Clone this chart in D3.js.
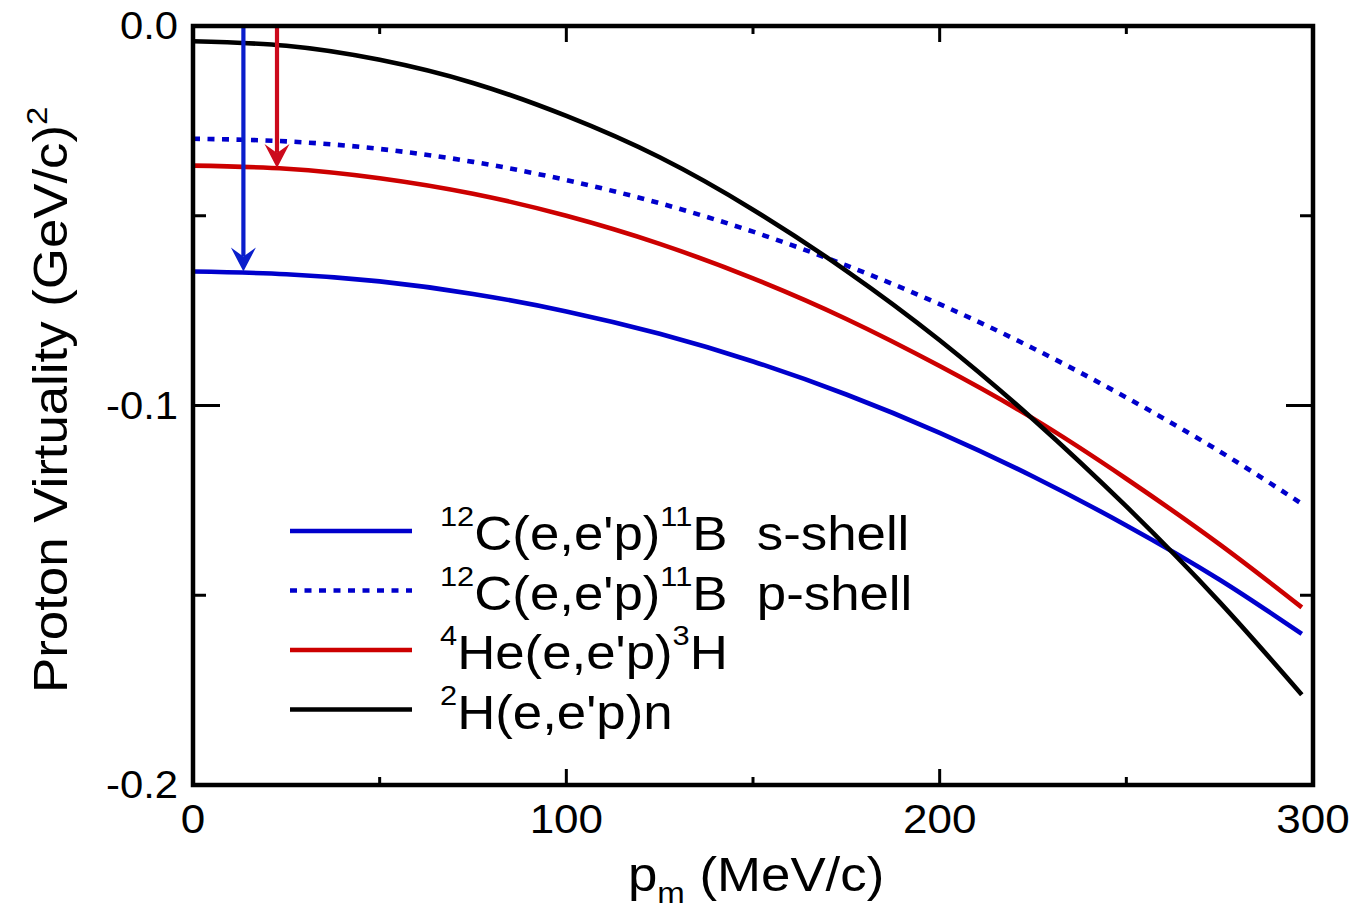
<!DOCTYPE html>
<html>
<head>
<meta charset="utf-8">
<script src="https://cdn.jsdelivr.net/npm/d3@7"></script>
<style>
  html, body { margin: 0; padding: 0; background: #fff; }
  svg { display: block; }
  text { font-family: "Liberation Sans", Arial, Helvetica, sans-serif; fill: #000; }
</style>
</head>
<body>
<svg id="chart" width="1354" height="916"></svg>
<script>
// Missing momentum grid (MeV/c)
const pm = [0, 25, 50, 75, 100, 125, 150, 175, 200, 225, 250, 275, 297];

// Proton virtuality (GeV/c)^2 for each reaction
const carbonS  = [-0.0647, -0.0654, -0.0673, -0.0706, -0.0752, -0.0811, -0.0884, -0.0971, -0.1072, -0.1187, -0.1316, -0.1459, -0.1602];
const carbonP  = [-0.0297, -0.0304, -0.0324, -0.0358, -0.0406, -0.0467, -0.0542, -0.0631, -0.0733, -0.0849, -0.0979, -0.1121, -0.1259];
const helium   = [-0.0368, -0.0376, -0.0401, -0.0442, -0.0500, -0.0574, -0.0665, -0.0772, -0.0896, -0.1034, -0.1193, -0.1366, -0.1532];
const deuteron = [-0.0040, -0.0052, -0.0089, -0.0150, -0.0237, -0.0346, -0.0484, -0.0645, -0.0828, -0.1036, -0.1266, -0.1518, -0.1762];

// Arrows marking the zero-momentum virtuality of the s-shell and 4He states
const arrowP    = [13.5, 22.5];
const arrowFrom = [0.0, 0.0];
const arrowTo   = [-0.0647, -0.0374];

// Axis ticks
const xMajor = [0, 100, 200, 300];
const xMinor = [50, 150, 250];
const yMajor = [0.0, -0.1, -0.2];
const yMinor = [-0.05, -0.15];
const xTickLabels = ["0", "100", "200", "300"];
const yTickLabels = ["0.0", "-0.1", "-0.2"];

const series = [
  { name: "s-shell", values: carbonS,  color: "#0000cc", dash: null },
  { name: "p-shell", values: carbonP,  color: "#0000cc", dash: "7,7.5" },
  { name: "He",      values: helium,   color: "#cc0000", dash: null },
  { name: "D",       values: deuteron, color: "#000000", dash: null }
];
const arrowColors = ["#0a1ecc", "#cc0a1c"];

const svg = d3.select("#chart");
const L = 193, R = 1313, T = 26, B = 785;
const x = d3.scaleLinear().domain([0, 300]).range([L, R]);
const y = d3.scaleLinear().domain([-0.2, 0]).range([B, T]);

const FONT_STRETCH = 1.1;

// text helper with a slight horizontal widening of the glyphs
function label(g, tx, ty, rot, size, anchor) {
  return g.append("text")
    .attr("transform", `translate(${tx},${ty}) rotate(${rot}) scale(${FONT_STRETCH},1)`)
    .attr("font-size", size)
    .attr("text-anchor", anchor);
}

// curves
const line = d3.line()
  .x((d, i) => x(pm[i]))
  .y(d => y(d))
  .curve(d3.curveNatural);

const curves = svg.append("g").attr("fill", "none").attr("stroke-width", 4.6);
series.forEach(s => {
  curves.append("path")
    .attr("d", line(s.values))
    .attr("stroke", s.color)
    .attr("stroke-dasharray", s.dash);
});

// arrows
const arrows = svg.append("g");
arrowP.forEach((p, i) => {
  const ax = x(p), y0 = y(arrowFrom[i]), y1 = y(arrowTo[i]);
  const headLen = 24, headHalf = 12.5, notch = 9;
  arrows.append("line")
    .attr("x1", ax).attr("x2", ax)
    .attr("y1", y0).attr("y2", y1 - headLen + notch)
    .attr("stroke", arrowColors[i]).attr("stroke-width", 4.2);
  arrows.append("path")
    .attr("d", `M${ax},${y1} L${ax - headHalf},${y1 - headLen} L${ax},${y1 - headLen + notch} L${ax + headHalf},${y1 - headLen} Z`)
    .attr("fill", arrowColors[i]);
});

// frame
svg.append("rect")
  .attr("x", L).attr("y", T)
  .attr("width", R - L).attr("height", B - T)
  .attr("fill", "none").attr("stroke", "#000").attr("stroke-width", 4.5);

// inward ticks on all four sides
const ticks = svg.append("g").attr("stroke", "#000").attr("stroke-width", 3);
const xMajLen = 16, xMinLen = 8, yMajLen = 27, yMinLen = 13;
xMajor.forEach(v => {
  ticks.append("line").attr("x1", x(v)).attr("x2", x(v)).attr("y1", B).attr("y2", B - xMajLen);
  ticks.append("line").attr("x1", x(v)).attr("x2", x(v)).attr("y1", T).attr("y2", T + xMajLen);
});
xMinor.forEach(v => {
  ticks.append("line").attr("x1", x(v)).attr("x2", x(v)).attr("y1", B).attr("y2", B - xMinLen);
  ticks.append("line").attr("x1", x(v)).attr("x2", x(v)).attr("y1", T).attr("y2", T + xMinLen);
});
yMajor.forEach(v => {
  ticks.append("line").attr("y1", y(v)).attr("y2", y(v)).attr("x1", L).attr("x2", L + yMajLen);
  ticks.append("line").attr("y1", y(v)).attr("y2", y(v)).attr("x1", R).attr("x2", R - yMajLen);
});
yMinor.forEach(v => {
  ticks.append("line").attr("y1", y(v)).attr("y2", y(v)).attr("x1", L).attr("x2", L + yMinLen);
  ticks.append("line").attr("y1", y(v)).attr("y2", y(v)).attr("x1", R).attr("x2", R - yMinLen);
});

// tick labels
const lbl = svg.append("g");
xMajor.forEach((v, i) => {
  label(lbl, x(v), 833, 0, 40, "middle").text(xTickLabels[i]);
});
yMajor.forEach((v, i) => {
  label(lbl, 178, y(v) + 13, 0, 38, "end").text(yTickLabels[i]);
});

// axis titles
const xt = label(svg, 628, 891, 0, 48, "start");
xt.append("tspan").text("p");
xt.append("tspan").attr("font-size", 30).attr("dy", 12).text("m");
xt.append("tspan").attr("dy", -12).text(" (MeV/c)");

const yt = label(svg, 67, 693, -90, 48, "start");
yt.append("tspan").text("Proton Virtuality (GeV/c)");
yt.append("tspan").attr("font-size", 30).attr("dy", -20).text("2");

// legend
const legendRows = [
  { color: "#0000cc", dash: null,    parts: [["sup", "12"], ["", "C(e,e'p)"], ["sup", "11"], ["", "B  s-shell"]] },
  { color: "#0000cc", dash: "7,7.5", parts: [["sup", "12"], ["", "C(e,e'p)"], ["sup", "11"], ["", "B  p-shell"]] },
  { color: "#cc0000", dash: null,    parts: [["sup", "4"], ["", "He(e,e'p)"], ["sup", "3"], ["", "H"]] },
  { color: "#000000", dash: null,    parts: [["sup", "2"], ["", "H(e,e'p)n"]] }
];
const legend = svg.append("g");
legendRows.forEach((r, i) => {
  const ly = 531 + i * 59.5;
  legend.append("line")
    .attr("x1", 290).attr("x2", 412).attr("y1", ly).attr("y2", ly)
    .attr("stroke", r.color).attr("stroke-width", 4.6)
    .attr("stroke-dasharray", r.dash);
  const t = label(legend, 440, ly + 19, 0, 48, "start").attr("xml:space", "preserve");
  let raised = false;
  r.parts.forEach(([kind, str]) => {
    const ts = t.append("tspan").text(str);
    if (kind === "sup") {
      ts.attr("font-size", 28).attr("dy", raised ? 0 : -24);
      raised = true;
    } else {
      ts.attr("dy", raised ? 24 : 0);
      raised = false;
    }
  });
});
</script>
</body>
</html>
